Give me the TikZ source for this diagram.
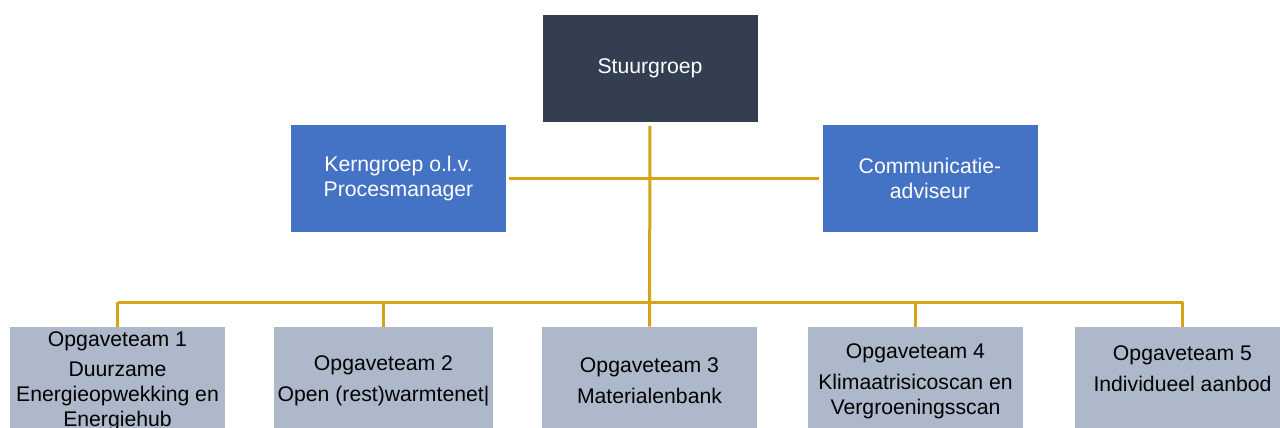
\documentclass[tikz,border=0pt]{standalone}
\usepackage{fontspec}
\setmainfont{Liberation Sans}
\definecolor{stuur}{RGB}{51,63,80}
\definecolor{blauw}{RGB}{68,114,196}
\definecolor{grijs}{RGB}{173,185,202}
\definecolor{goud}{RGB}{214,162,22}

\begin{document}
\begin{tikzpicture}[x=0.5pt,y=-0.5pt,
	blok/.style={rectangle, inner sep=2pt, minimum width=107.5pt, minimum height=53.5pt, align=center, font=\fontsize{10.6}{12.4}\selectfont},
	team/.style={blok, fill=grijs, text=black, minimum height=54pt},
	lijn/.style={draw=goud, line width=1.5pt}]
			\useasboundingbox (0,0) rectangle (1280,428);
			\node[blok, fill=stuur, text=white] (S) at (650,68) {Stuurgroep};
			\node[blok, fill=blauw, text=white] (K) at (398.5,178.5) {Kerngroep o.l.v.\\Procesmanager};
			\node[blok, fill=blauw, text=white] (C) at (930,178.5) {Communicatie-\\adviseur};
			
			\node[team] (O1) at (117.5,381) {Opgaveteam 1\\[3pt]Duurzame\\Energieopwekking en\\Energiehub};
			\node[team] (O2) at (383.5,381) {Opgaveteam 2\\[3pt]Open (rest)warmtenet|};
			\node[team] (O3) at (649.5,381) {Opgaveteam 3\\[3pt]Materialenbank};
			\node[team] (O4) at (915.5,381) {Opgaveteam 4\\[3pt]Klimaatrisicoscan en\\Vergroeningsscan};
			\node[team] (O5) at (1182.5,381) {Opgaveteam 5\\[3pt]Individueel aanbod\\\mbox{}};
			\coordinate (B) at (650,302);
			
			\draw[lijn, shorten <=2pt] (S) -- (O3);
			\draw[lijn, shorten <=1.5pt, shorten >=1.5pt] (K) -- (C);
			\draw[lijn] (O1.north |- B) -- (O5.north |- B);
			\foreach \t in {1,2,4,5}
				\draw[lijn] (O\t.north |- B) -- (O\t.north);
\end{tikzpicture}
\end{document}
